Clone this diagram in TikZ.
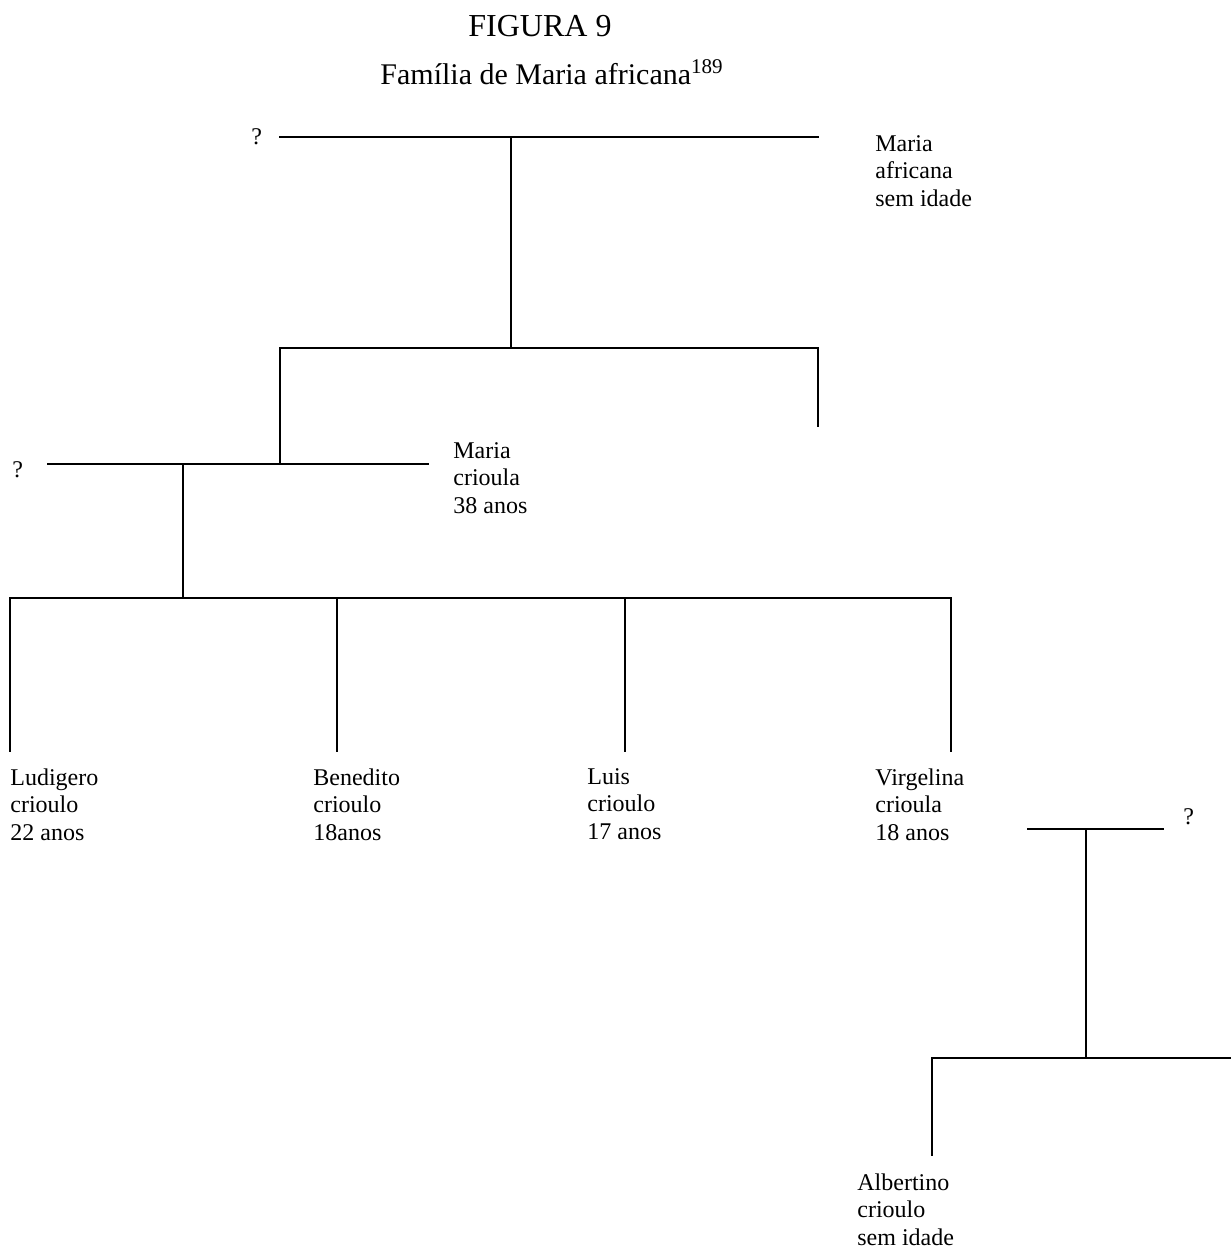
\documentclass[tikz,border=0pt]{standalone}
\usepackage{fontspec}
\setmainfont{Liberation Serif}
\begin{document}
\begin{tikzpicture}[x=0.5pt,y=-0.5pt,
  line/.style={line width=1pt,line cap=rect},
  person/.style={anchor=north west,inner sep=0pt,align=left,font=\fontsize{12}{13.75}\selectfont},
  unk/.style={anchor=base west,inner sep=0pt,font=\fontsize{12}{13.75}\selectfont},
  ttl/.style={anchor=base,inner sep=0pt}]
\useasboundingbox (0,0) rectangle (1231,1253);
% titles
\node[ttl,font=\fontsize{16}{19}\selectfont] (fig) at (540,36) {FIGURA 9};
\node[ttl,font=\fontsize{15}{19}\selectfont] (tit) at (552,84) {Família de Maria africana\textsuperscript{189}};
% generation 1
\coordinate (c1l) at (280,137); \coordinate (c1r) at (818,137);
\coordinate (c1m) at (511,137);
\node[unk] (q1) at (251,144) {?};
\node[person] (mafr) at (875,135) {Maria\\africana\\sem idade};
\draw[line] (c1l) -- (c1r);
\coordinate (s1m) at (511,348); \coordinate (s1l) at (280,348); \coordinate (s1r) at (818,348);
\draw[line] (c1m) -- (s1m);
\draw[line] (s1l) -- (s1r);
\coordinate (s1rb) at (818,426);
\draw[line] (s1r) -- (s1rb);
% generation 2
\coordinate (c2l) at (48,464); \coordinate (c2r) at (428,464);
\coordinate (c2a) at (280,464); \coordinate (c2m) at (183,464);
\draw[line] (s1l) -- (c2a);
\draw[line] (c2l) -- (c2r);
\node[unk] (q2) at (12,477) {?};
\node[person] (mcri) at (453,442) {Maria\\crioula\\38 anos};
\coordinate (s2m) at (183,598);
\draw[line] (c2m) -- (s2m);
\coordinate (s2l) at (10,598); \coordinate (s2r) at (951,598);
\coordinate (s2b) at (337,598); \coordinate (s2c) at (625,598);
\draw[line] (s2l) -- (s2r);
\coordinate (e1) at (10,751); \coordinate (e2) at (337,751);
\coordinate (e3) at (625,751); \coordinate (e4) at (951,751);
\draw[line] (s2l) -- (e1);
\draw[line] (s2b) -- (e2);
\draw[line] (s2c) -- (e3);
\draw[line] (s2r) -- (e4);
\node[person] (lud) at (10,768) {Ludigero\\crioulo\\22 anos};
\node[person] (ben) at (313,768) {Benedito\\crioulo\\18anos};
\node[person] (lui) at (587,768) {Luis\\crioulo\\17 anos};
\node[person] (vir) at (875,768) {Virgelina\\crioula\\18 anos};
% generation 3
\coordinate (c3l) at (1028,829); \coordinate (c3r) at (1163,829);
\coordinate (c3m) at (1086,829);
\draw[line] (c3l) -- (c3r);
\node[unk] (q3) at (1183,824) {?};
\coordinate (s3m) at (1086,1058); \coordinate (s3l) at (932,1058); \coordinate (s3r) at (1231,1058);
\draw[line] (c3m) -- (s3m);
\draw[line] (s3l) -- (s3r);
\coordinate (s3lb) at (932,1155);
\draw[line] (s3l) -- (s3lb);
\node[person] (alb) at (857,1173) {Albertino\\crioulo\\sem idade};
\end{tikzpicture}
\end{document}
